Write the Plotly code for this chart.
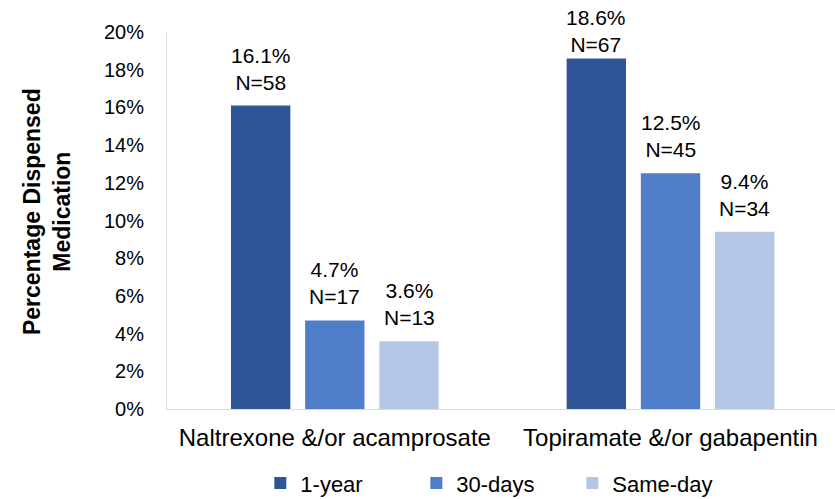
import plotly.graph_objects as go

categories = ["Naltrexone &/or acamprosate", "Topiramate &/or gabapentin"]
series_names = ["1-year", "30-days", "Same-day"]
pct_values = [
    [16.1, 18.6],
    [4.7, 12.5],
    [3.6, 9.4],
]
n_values = [
    [58, 67],
    [17, 45],
    [13, 34],
]
colors = ["#2F5597", "#4F7DC9", "#B4C7E7"]
y_ticks = [0, 2, 4, 6, 8, 10, 12, 14, 16, 18, 20]

font_family = "Liberation Sans, Arial, sans-serif"

# layout geometry
fig_w, fig_h = 835, 499
m_l, m_r, m_t, m_b = 167, 0, 32, 90
x_range = [-0.5, 1.49]
y_max = 20
bargap, bargroupgap = 0.337, 0.2

plot_w = fig_w - m_l - m_r
cat_px = plot_w / (x_range[1] - x_range[0])
slot_px = cat_px * (1 - bargap) / len(series_names)

fig = go.Figure()
annotations = []
for i, (name, vals, ns, col) in enumerate(zip(series_names, pct_values, n_values, colors)):
    fig.add_trace(go.Bar(
        name=name,
        x=categories,
        y=vals,
        marker=dict(color=col, line=dict(width=0)),
    ))
    for cat, v, n in zip(categories, vals, ns):
        # labels sit a little above the bar, tighter when near the top of the axis
        lift = 0 if v > 0.9 * y_max else 10
        annotations.append(dict(
            x=cat, y=v, xref="x", yref="y",
            text=f"{v:.1f}%<br>N={n}",
            showarrow=False,
            xanchor="center", yanchor="bottom",
            xshift=(i - (len(series_names) - 1) / 2) * slot_px,
            yshift=lift,
            font=dict(size=21, color="#000000", family=font_family),
        ))

annotations.append(dict(
    x=-120 / plot_w, y=0.5225, xref="paper", yref="paper",
    text="<b>Percentage Dispensed<br>Medication</b>",
    textangle=-90,
    showarrow=False,
    xanchor="center", yanchor="middle",
    font=dict(size=23, color="#000000", family=font_family),
))

fig.update_layout(
    width=fig_w,
    height=fig_h,
    barmode="group",
    bargap=bargap,
    bargroupgap=bargroupgap,
    plot_bgcolor="white",
    paper_bgcolor="white",
    margin=dict(l=m_l, r=m_r, t=m_t, b=m_b, autoexpand=False),
    font=dict(family=font_family, color="#000000"),
    showlegend=True,
    annotations=annotations,
    legend=dict(
        orientation="h",
        x=0.49, xanchor="center",
        y=-0.197, yanchor="middle",
        font=dict(size=22),
        itemwidth=30,
        entrywidth=111,
        traceorder="normal",
    ),
    xaxis=dict(
        range=x_range,
        showline=True,
        linecolor="#d9d9d9",
        linewidth=1,
        ticks="",
        tickfont=dict(size=24),
        ticklabelstandoff=7,
        showgrid=False,
    ),
    yaxis=dict(
        range=[0, y_max],
        tickvals=y_ticks,
        ticktext=[f"{t}%" for t in y_ticks],
        tickfont=dict(size=20),
        showgrid=False,
        showline=True,
        linecolor="#d9d9d9",
        linewidth=1,
        ticks="",
        ticklabelstandoff=18,
        zeroline=False,
    ),
)

fig.write_html("out.html")
